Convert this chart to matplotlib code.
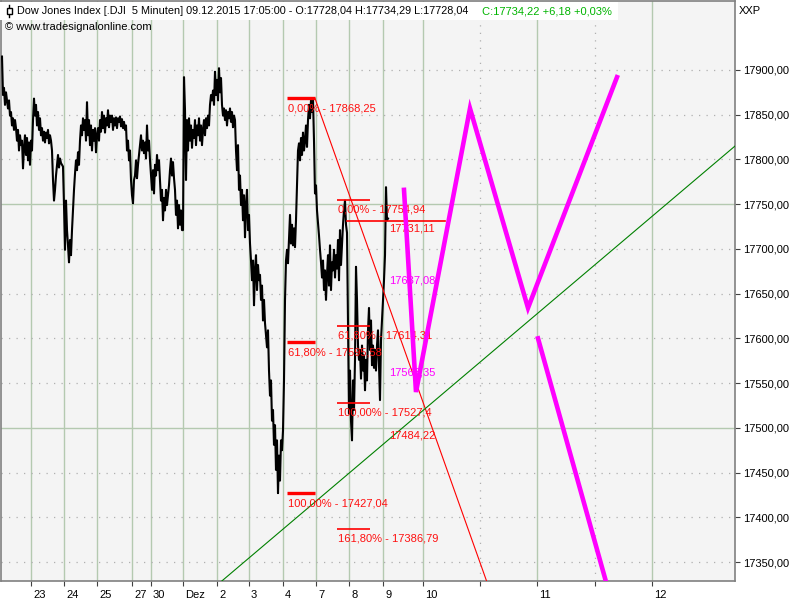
import numpy as np
import matplotlib
matplotlib.use('Agg')
import matplotlib.pyplot as plt
from matplotlib.transforms import ScaledTranslation
from matplotlib.patches import Rectangle
from matplotlib.lines import Line2D

plt.rcParams['font.family'] = ['Liberation Sans', 'DejaVu Sans']

# ---------------- data ----------------
# 5-minute closes (one value per chart column), 23 Nov - 9 Dec 2015
close = [
    17915, 17872, 17880, 17861, 17875, 17866, 17857, 17866, 17849, 17853,
    17838, 17846, 17833, 17844, 17835, 17821, 17833, 17810, 17827, 17816,
    17821, 17790, 17813, 17827, 17805, 17824, 17799, 17819, 17794, 17821,
    17810, 17844, 17868, 17849, 17861, 17838, 17853, 17833, 17846, 17827,
    17835, 17821, 17831, 17819, 17830, 17824, 17833, 17818, 17827, 17821,
    17810, 17777, 17754, 17766, 17782, 17794, 17805, 17791, 17801, 17796,
    17794, 17792, 17749, 17699, 17754, 17721, 17704, 17685, 17710, 17693,
    17721, 17743, 17766, 17784, 17799, 17788, 17808, 17794, 17821, 17838,
    17827, 17846, 17833, 17844, 17821, 17864, 17827, 17844, 17816, 17838,
    17810, 17833, 17821, 17835, 17808, 17827, 17835, 17821, 17844, 17831,
    17853, 17835, 17849, 17830, 17846, 17838, 17855, 17836, 17849, 17842,
    17849, 17833, 17846, 17838, 17847, 17835, 17846, 17842, 17848, 17837,
    17845, 17835, 17842, 17833, 17838, 17810, 17821, 17799, 17810, 17777,
    17760, 17751, 17777, 17782, 17799, 17779, 17794, 17805, 17816, 17827,
    17810, 17821, 17807, 17819, 17801, 17838, 17810, 17821, 17799, 17782,
    17766, 17788, 17762, 17794, 17782, 17805, 17788, 17799, 17777, 17754,
    17766, 17732, 17757, 17743, 17766, 17749, 17760, 17771, 17788, 17801,
    17782, 17797, 17779, 17766, 17738, 17754, 17723, 17749, 17727, 17743,
    17721, 17721, 17892, 17855, 17777, 17844, 17810, 17846, 17821, 17838,
    17813, 17833, 17824, 17844, 17816, 17838, 17827, 17846, 17821, 17838,
    17816, 17833, 17844, 17827, 17846, 17835, 17849, 17838, 17861, 17872,
    17866, 17877, 17861, 17898, 17872, 17889, 17866, 17902, 17875, 17891,
    17861, 17849, 17857, 17844, 17855, 17838, 17853, 17846, 17857, 17842,
    17853, 17836, 17849, 17844, 17810, 17788, 17816, 17766, 17782, 17749,
    17766, 17732, 17760, 17713, 17749, 17766, 17721, 17738, 17706, 17687,
    17665, 17687, 17637, 17676, 17693, 17654, 17682, 17665, 17671, 17643,
    17659, 17620, 17643, 17617, 17604, 17590, 17609, 17564, 17536, 17553,
    17508, 17520, 17481, 17503, 17453, 17486, 17427, 17469, 17441, 17486,
    17475, 17497, 17553, 17643, 17687, 17699, 17684, 17710, 17738, 17706,
    17727, 17704, 17723, 17702, 17732, 17769, 17810, 17818, 17799, 17824,
    17805, 17830, 17810, 17821, 17838, 17814, 17844, 17861, 17846, 17866,
    17853, 17868, 17821, 17762, 17771, 17743, 17729, 17715, 17699, 17685,
    17668, 17687, 17654, 17676, 17643, 17671, 17693, 17659, 17704, 17654,
    17685, 17676, 17699, 17668, 17693, 17678, 17710, 17665, 17721, 17682,
    17704, 17727, 17743, 17754, 17727, 17718, 17620, 17516, 17564, 17508,
    17486, 17553, 17520, 17576, 17680, 17643, 17592, 17576, 17587, 17555,
    17592, 17564, 17581, 17542, 17576, 17553, 17609, 17634, 17587, 17620,
    17570, 17592, 17567, 17587, 17564, 17592, 17609, 17570, 17531, 17598,
    17620, 17643, 17665, 17693, 17769, 17732, 17734,
]

# x-axis (chart time positions) and labels
tick_pos = [29, 62, 95, 130, 149, 181, 215, 247, 281, 314, 347, 381, 421, 478, 535, 593, 650]
tick_labels = ['23', '24', '25', '27', '30', 'Dez', '2', '3', '4', '7', '8', '9',
               '10', '', '11', '', '12']
minor_grid_pos = [478, 593]
price_ticks = list(range(17350, 17901, 50))
solid_price_grid = [17500, 17750]

# Fibonacci set 1
fib1_levels = [17868.25, 17595.58, 17427.04]
fib1_labels = ['0,00% - 17868,25', '61,80% - 17595,58', '100,00% - 17427,04']
fib1_span = [285, 313]
# Fibonacci set 2
fib2_levels = [17754.94, 17614.31, 17527.4, 17386.79]
fib2_labels = ['0,00% - 17754,94', '61,80% - 17614,31', '100,00% - 17527,4',
               '161,80% - 17386,79']
fib2_span = [335, 368]
# target line
target_level = 17731.11
target_span = [345, 443]

# point labels
red_point_labels = ['17731,11', '17484,22']
red_point_y = [17723, 17491]
magenta_point_labels = ['17637,08', '17563,35']
magenta_point_y = [17665, 17562]
point_label_x = 387

# projection path (magenta)
proj_x = [402, 414, 468, 526, 615]
proj_y = [17766, 17540, 17857, 17634, 17892]
proj2_x = [536, 611]
proj2_y = [17600, 17300]

# trend lines
red_trend_x = [313, 495]
red_trend_y = [17868.25, 17296]
green_trend_x = [210, 740]
green_trend_y = [17319.5, 17821.6]

FS = 8.0

# ---------------- figure ----------------
fig = plt.figure(figsize=(8, 6), dpi=100)
fig.patch.set_facecolor('white')
ax = fig.add_axes([1 / 800, 19 / 600, 734 / 800, 580 / 600])
ax.set_facecolor('#f4f4f4')
ax.set_xlim(-1, 733)
ax.set_ylim(17328.8, 17977.1)

grid_green = '#b4c9b0'
dot_grey = '#b0b0b0'
for p in tick_pos:
    if p in minor_grid_pos:
        ax.axvline(p, color=dot_grey, lw=0.9, ls=(0, (1, 5)), zorder=0.5)
    else:
        ax.axvline(p, color=grid_green, lw=1.0, zorder=0.5)
for pr in price_ticks:
    if pr in solid_price_grid:
        ax.axhline(pr, color=grid_green, lw=1.0, zorder=0.5)
    else:
        ax.axhline(pr, color=dot_grey, lw=0.9, ls=(0, (1, 5)), zorder=0.5)

# price
ax.plot(np.arange(len(close)), close, color='black', lw=1.5, zorder=3)

# trend lines
ax.plot(red_trend_x, red_trend_y, color='#ff0000', lw=0.8, zorder=4)
ax.plot(green_trend_x, green_trend_y, color='#008000', lw=0.8, zorder=4)

# fib set 1
for lev, lab in zip(fib1_levels, fib1_labels):
    ax.plot(fib1_span, [lev, lev], color='#ff0000', lw=2.4, zorder=5, solid_capstyle='butt')
    ax.annotate(lab, (fib1_span[0] + 1, lev), xytext=(0, -7.5), textcoords='offset points',
                color='#ff1010', fontsize=FS, va='center', ha='left', zorder=6)
# fib set 2
for lev, lab in zip(fib2_levels, fib2_labels):
    ax.plot(fib2_span, [lev, lev], color='#ff0000', lw=1.2, zorder=5, solid_capstyle='butt')
    ax.annotate(lab, (fib2_span[0] + 0.5, lev), xytext=(0, -6.8), textcoords='offset points',
                color='#ff1010', fontsize=FS, va='center', ha='left', zorder=6)
ax.plot(target_span, [target_level, target_level], color='#ff0000', lw=1.2, zorder=5)

for lab, yv in zip(red_point_labels, red_point_y):
    ax.text(point_label_x, yv, lab, color='#ff1010', fontsize=FS, va='center', ha='left', zorder=6)
for lab, yv in zip(magenta_point_labels, magenta_point_y):
    ax.text(point_label_x, yv, lab, color='#ff00ff', fontsize=FS, va='center', ha='left', zorder=6)

# projections
ax.plot(proj_x, proj_y, color='#ff00ff', lw=3.3, zorder=7, solid_joinstyle='miter')
ax.plot(proj2_x, proj2_y, color='#ff00ff', lw=3.3, zorder=7)

# axes styling
for s in ax.spines.values():
    s.set_color('#808080')
    s.set_linewidth(1.2)
ax.yaxis.tick_right()
ax.set_yticks(price_ticks)
ax.set_yticklabels([f"{v:.2f}".replace('.', ',') for v in price_ticks])
ax.tick_params(axis='y', direction='out', length=3.5, width=0.8, color='#404040',
               pad=2, labelsize=FS, labelcolor='black')
ax.set_xticks(tick_pos)
ax.set_xticklabels(tick_labels, ha='left')
ax.tick_params(axis='x', direction='out', length=3.5, width=0.8, color='#404040',
               pad=3, labelsize=FS, labelcolor='black')
for lbl in ax.get_xticklabels():
    lbl.set_transform(lbl.get_transform() + ScaledTranslation(2 / 100, 0, fig.dpi_scale_trans))

# header
fig.add_artist(Rectangle((0, 1 - 20 / 600), 618 / 800, 18 / 600, transform=fig.transFigure,
                         facecolor='white', edgecolor='none', zorder=5))
fig.add_artist(Line2D([9 / 800, 9 / 800], [1 - 5 / 600, 1 - 17 / 600], transform=fig.transFigure,
                      color='black', lw=1.0, zorder=6))
fig.add_artist(Rectangle((6.5 / 800, 1 - 14 / 600), 5 / 800, 6 / 600, transform=fig.transFigure,
                         facecolor='white', edgecolor='black', lw=1.0, zorder=7))
fig.text(17 / 800, 1 - 11 / 600,
         'Dow Jones Index [.DJI  5 Minuten] 09.12.2015 17:05:00 - O:17728,04 H:17734,29 L:17728,04',
         color='black', fontsize=7.85, va='center', ha='left', zorder=8)
fig.text(482 / 800, 1 - 11 / 600, 'C:17734,22 +6,18 +0,03%', color='#00b400', fontsize=FS,
         va='center', ha='left', zorder=8)
fig.text(5 / 800, 1 - 27 / 600, '\u00a9 www.tradesignalonline.com', color='black', fontsize=FS,
         va='center', ha='left', zorder=8)
fig.text(739 / 800, 1 - 11 / 600, 'XXP', color='black', fontsize=FS, va='center', ha='left')

fig.savefig('out.png', dpi=100)
